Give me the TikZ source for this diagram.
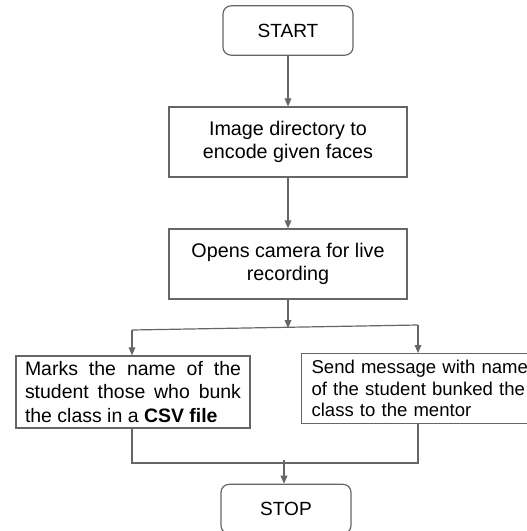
\documentclass[tikz,border=0pt]{standalone}
\usepackage{fontspec}
\setmainfont{Liberation Sans}
\usetikzlibrary{arrows.meta}
\definecolor{linegray}{HTML}{666666}

\begin{document}
\begin{tikzpicture}[
  x=0.75pt, y=-0.75pt,
  term/.style={rectangle, rounded corners=6pt, draw=linegray, line width=0.9pt, minimum width=97.5pt, minimum height=37pt, font=\fontsize{14.3}{17.5}\selectfont},
  box/.style={rectangle, draw=linegray, line width=0.9pt, minimum width=178.5pt, minimum height=52.5pt, align=center, font=\fontsize{14.8}{17.5}\selectfont},
  task/.style={rectangle, draw=linegray, line width=0.9pt, minimum height=53pt, inner xsep=7.5pt},
  wire/.style={-{Triangle[length=6pt,width=5pt]}, draw=linegray, line width=0.9pt},
  link/.style={draw=linegray, line width=0.9pt}
]
\useasboundingbox[fill=white] (0,0) rectangle (527,531);

% Terminals and steps
\node[term] (start) at (288, 30.5) {START};
\node[box] (encode) at (288, 142) {Image directory to\\encode given faces};
\node[box] (camera) at (288, 264) {Opens camera for live\\recording};

% Two parallel tasks
\node[task, text width=162pt, align=justify, minimum width=175.5pt, minimum height=54pt, inner xsep=0pt,
      font=\fontsize{14.6}{17.5}\selectfont] (marks) at (133, 392)
  {Marks the name of the\linebreak student those who bunk\linebreak the class in a \textbf{CSV file}};
\node[task, text width=176pt, align=left, anchor=north west, minimum height=52.5pt,
      font=\fontsize{13.9}{16}\selectfont] (send) at (301, 353)
  {Send message with name\\of the student bunked the\\class to the mentor};

\node[term] (stop) at (286, 509) {STOP};

% Junction points
\coordinate (splitL) at (132, 330);
\coordinate (splitR) at (418, 325);
\coordinate (splitM) at (288, 328);
\coordinate (joinL) at (132, 463);
\coordinate (joinR) at (418, 463);
\coordinate (joinM) at (284, 460);

% Wires
\draw[wire] (start) -- (encode);
\draw[wire] (encode) -- (camera);
\draw[wire] (camera.south) -- (splitM);
\draw[link] (splitL) -- (splitR);
\draw[wire] (splitL) -- (splitL |- marks.north);
\draw[wire] (splitR) -- (splitR |- send.north);
\draw[link] (joinL |- marks.south) -- (joinL) -- (joinR) -- (joinR |- send.south);
\draw[wire] (joinM) -- (stop.north -| joinM);

\end{tikzpicture}
\end{document}
